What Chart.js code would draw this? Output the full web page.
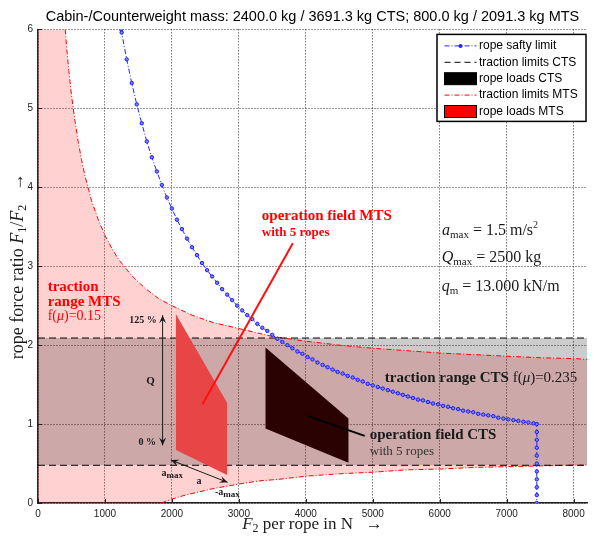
<!DOCTYPE html>
<html>
<head>
<meta charset="utf-8">
<script src="https://cdn.jsdelivr.net/npm/chart.js@4.4.0/dist/chart.umd.min.js"></script>
<style>
  html, body { margin: 0; padding: 0; background: #fff; }
</style>
</head>
<body>
<canvas id="ropeChart" width="594" height="538"></canvas>
<script>
// axis ticks
const f2Ticks = [0, 1000, 2000, 3000, 4000, 5000, 6000, 7000, 8000];
const ratioTicks = [0, 1, 2, 3, 4, 5, 6];

// rope safety limit (F2 in N -> F1/F2), incl. the drop at the max rope force
const safetyF2 = [1242, 1250, 1325, 1400, 1475, 1550, 1625, 1700, 1775, 1850,
  1925, 2000, 2075, 2150, 2225, 2300, 2375, 2450, 2525, 2600,
  2675, 2750, 2825, 2900, 2975, 3050, 3125, 3200, 3275, 3350,
  3425, 3500, 3575, 3650, 3725, 3800, 3875, 3950, 4025, 4100,
  4175, 4250, 4325, 4400, 4475, 4550, 4625, 4700, 4775, 4850,
  4925, 5000, 5075, 5150, 5225, 5300, 5375, 5450, 5525, 5600,
  5675, 5750, 5825, 5900, 5975, 6050, 6125, 6200, 6275, 6350,
  6425, 6500, 6575, 6650, 6725, 6800, 6875, 6950, 7025, 7100,
  7175, 7250, 7325, 7400, 7450, 7450, 7450, 7450, 7450, 7450,
  7450, 7450, 7450, 7450, 7450];
const safetyRatio = [6.00, 5.96, 5.62, 5.32, 5.05, 4.81, 4.58, 4.38, 4.20, 4.03,
  3.87, 3.73, 3.59, 3.47, 3.35, 3.24, 3.14, 3.04, 2.95, 2.87,
  2.79, 2.71, 2.64, 2.57, 2.50, 2.44, 2.38, 2.33, 2.27, 2.22,
  2.18, 2.13, 2.08, 2.04, 2.00, 1.96, 1.92, 1.89, 1.85, 1.82,
  1.78, 1.75, 1.72, 1.69, 1.66, 1.64, 1.61, 1.59, 1.56, 1.54,
  1.51, 1.49, 1.47, 1.45, 1.43, 1.41, 1.39, 1.37, 1.35, 1.33,
  1.31, 1.30, 1.28, 1.26, 1.25, 1.23, 1.22, 1.20, 1.19, 1.17,
  1.16, 1.15, 1.13, 1.12, 1.11, 1.10, 1.08, 1.07, 1.06, 1.05,
  1.04, 1.03, 1.02, 1.01, 1.00, 0.90, 0.80, 0.70, 0.60, 0.50,
  0.40, 0.30, 0.20, 0.10, 0.00];

// traction limits MTS, f(mu) = 0.15
const mtsUpperF2 = [406, 430, 460, 500, 550, 600, 650, 700, 800, 900,
  1000, 1100, 1200, 1400, 1600, 1800, 2000, 2300, 2600, 3000,
  3500, 4000, 4500, 5000, 5500, 6000, 6500, 7000, 7500, 8000, 8200];
const mtsUpperRatio = [6.00, 5.75, 5.48, 5.17, 4.85, 4.58, 4.35, 4.15, 3.83, 3.59,
  3.39, 3.23, 3.09, 2.88, 2.72, 2.59, 2.50, 2.38, 2.29, 2.21,
  2.11, 2.05, 2.00, 1.96, 1.93, 1.90, 1.88, 1.86, 1.84, 1.83, 1.82];
const mtsLowerF2 = [1846, 1900, 2000, 2200, 2400, 2600, 2800, 3000, 3300, 3600,
  4000, 4500, 5000, 5500, 6000, 6500, 7000, 7500, 8000, 8200];
const mtsLowerRatio = [0.00, 0.02, 0.05, 0.10, 0.14, 0.18, 0.21, 0.24, 0.28, 0.30,
  0.34, 0.37, 0.39, 0.42, 0.43, 0.45, 0.46, 0.47, 0.48, 0.48];

// traction limits CTS, f(mu) = 0.235
const ctsLimitF2 = [0, 8200];
const ctsUpperRatio = [2.09, 2.09];
const ctsLowerRatio = [0.478, 0.478];

// operation fields with 5 ropes
const mtsLoadF2 = [2060, 2825, 2825, 2060];
const mtsLoadRatio = [2.39, 1.27, 0.354, 0.67];
const ctsLoadF2 = [3398, 4637, 4637, 3398];
const ctsLoadRatio = [1.97, 1.07, 0.51, 0.945];

// pointer lines to the field labels
const mtsPointerF2 = [2457, 3806];
const mtsPointerRatio = [1.25, 3.29];
const ctsPointerF2 = [4034, 4880];
const ctsPointerRatio = [1.10, 0.85];

const SANS = '"Liberation Sans", Arial, sans-serif';
const SERIF = '"Liberation Serif", "DejaVu Serif", serif';
const RED = '#ff0000';
const INK = '#1a1a1a';
const BLUE = '#2424ff';

const pts = (xs, ys) => xs.map((x, i) => ({ x: x, y: ys[i] }));

const mtsRangeShape = [{ x: 0, y: 6 }]
  .concat(pts(mtsUpperF2, mtsUpperRatio))
  .concat(pts(mtsLowerF2, mtsLowerRatio).reverse())
  .concat([{ x: 0, y: 0 }]);
const ctsRangeShape = pts(ctsLimitF2, ctsLowerRatio)
  .concat(pts(ctsLimitF2, ctsUpperRatio).reverse());

function shape(data, color, order) {
  return { data, fill: 'shape', backgroundColor: color, borderColor: 'transparent',
    borderWidth: 1, pointRadius: 0, order };
}
function curve(data, color, dash, width, order) {
  return { data, fill: false, borderColor: color, borderDash: dash, borderWidth: width,
    pointRadius: 0, order };
}

const P = (t, size, style, color, dy) =>
  ({ t, size, color, dy: dy || 0, font: (style || '') + ' ' + size + 'px ' + SERIF });

const notes = [
  { at: [145, 2.75], align: 'left', parts: [P('traction', 15, 'bold', RED)] },
  { at: [145, 2.56], align: 'left', parts: [P('range MTS', 15, 'bold', RED)] },
  { at: [145, 2.38], align: 'left', parts: [P('f(', 14, '', RED), P('μ', 14, 'italic', RED), P(')=0.15', 14, '', RED)] },
  { at: [1772, 2.32], align: 'right', parts: [P('125 %', 10, 'bold', INK)] },
  { at: [1761, 0.78], align: 'right', parts: [P('0 %', 10, 'bold', INK)] },
  { at: [1682, 1.56], align: 'center', parts: [P('Q', 11, 'bold', INK)] },
  { at: [1846, 0.38], align: 'left', parts: [P('a', 10, 'bold', INK), P('max', 9, 'bold', INK, 2)] },
  { at: [2369, 0.28], align: 'left', parts: [P('a', 10, 'bold', INK)] },
  { at: [2642, 0.14], align: 'left', parts: [P('-a', 10, 'bold', INK), P('max', 9, 'bold', INK, 2)] },
  { at: [3343, 3.65], align: 'left', parts: [P('operation field MTS', 15, 'bold', RED)] },
  { at: [3343, 3.44], align: 'left', parts: [P('with 5 ropes', 13, 'bold', RED)] },
  { at: [6034, 3.46], align: 'left', parts: [P('a', 16, 'italic', INK), P('max', 11, '', INK, 3), P(' = 1.5 m/s', 16, '', INK), P('2', 10, '', INK, -7)] },
  { at: [6030, 3.12], align: 'left', parts: [P('Q', 16, 'italic', INK), P('max', 11, '', INK, 3), P(' = 2500 kg', 16, '', INK)] },
  { at: [6030, 2.75], align: 'left', parts: [P('q', 16, 'italic', INK), P('m', 11, '', INK, 3), P(' = 13.000 kN/m', 16, '', INK)] },
  { at: [5179, 1.60], align: 'left', parts: [P('traction range CTS', 15, 'bold', INK), P(' f(', 15, '', INK), P('μ', 15, 'italic', INK), P(')=0.235', 15, '', INK)] },
  { at: [4955, 0.87], align: 'left', parts: [P('operation field CTS', 15, 'bold', INK)] },
  { at: [4955, 0.66], align: 'left', parts: [P('with 5 ropes', 13, '', '#333')] }
];

// double arrows: load range Q and acceleration a
const arrows = [
  [[1861, 2.38], [1861, 0.73]],
  [[1985, 0.544], [2831, 0.262]]
];

const legendItems = [
  { label: 'rope safty limit', kind: 'line', color: BLUE, dash: [5, 2, 1, 2], marker: true },
  { label: 'traction limits CTS', kind: 'line', color: '#000', dash: [6, 4] },
  { label: 'rope loads CTS', kind: 'box', color: '#000' },
  { label: 'traction limits MTS', kind: 'line', color: RED, dash: [5, 2, 1, 2] },
  { label: 'rope loads MTS', kind: 'box', color: RED }
];

function drawRich(c, parts, x, y, align) {
  let w = 0;
  parts.forEach(p => { c.font = p.font; p.w = c.measureText(p.t).width; w += p.w; });
  let cx = align === 'center' ? x - w / 2 : align === 'right' ? x - w : x;
  c.textAlign = 'left';
  c.textBaseline = 'alphabetic';
  parts.forEach(p => {
    c.font = p.font;
    c.fillStyle = p.color;
    c.fillText(p.t, cx, y + p.dy);
    cx += p.w;
  });
}

function head(c, tx, ty, fx, fy) {
  const a = Math.atan2(ty - fy, tx - fx), L = 8, W = 3.5;
  c.beginPath();
  c.moveTo(tx, ty);
  c.lineTo(tx - L * Math.cos(a) + W * Math.sin(a), ty - L * Math.sin(a) - W * Math.cos(a));
  c.lineTo(tx - 0.6 * L * Math.cos(a), ty - 0.6 * L * Math.sin(a));
  c.lineTo(tx - L * Math.cos(a) - W * Math.sin(a), ty - L * Math.sin(a) + W * Math.cos(a));
  c.closePath();
  c.fill();
}

function drawLegend(c, area) {
  const w = 149, h = 87;
  const x0 = area.right - w - 1, y0 = area.top + 5;
  c.save();
  c.fillStyle = '#fff';
  c.fillRect(x0, y0, w, h);
  c.strokeStyle = '#000';
  c.lineWidth = 1.5;
  c.strokeRect(x0, y0, w, h);
  legendItems.forEach((it, i) => {
    const cy = y0 + 11.5 + i * 16.4;
    const sx = x0 + 7.5, ex = x0 + 39.5;
    if (it.kind === 'box') {
      c.fillStyle = it.color;
      c.fillRect(sx, cy - 6, ex - sx, 12);
      c.strokeStyle = '#000';
      c.lineWidth = 1;
      c.strokeRect(sx, cy - 6, ex - sx, 12);
    } else {
      c.strokeStyle = it.color;
      c.lineWidth = 1;
      c.setLineDash(it.dash);
      c.beginPath();
      c.moveTo(sx, cy);
      c.lineTo(ex, cy);
      c.stroke();
      c.setLineDash([]);
      if (it.marker) {
        c.fillStyle = it.color;
        c.beginPath();
        c.arc((sx + ex) / 2, cy, 2, 0, 2 * Math.PI);
        c.fill();
      }
    }
    c.fillStyle = '#000';
    c.font = '12px ' + SANS;
    c.textBaseline = 'middle';
    c.textAlign = 'left';
    c.fillText(it.label, x0 + 42, cy);
  });
  c.restore();
}

const overlay = {
  id: 'overlay',
  afterDatasetsDraw(chart) {
    const c = chart.ctx, xs = chart.scales.x, ys = chart.scales.y;
    const { left, bottom } = chart.chartArea;
    c.save();
    // inward ticks
    c.strokeStyle = '#222';
    c.lineWidth = 1;
    c.beginPath();
    ys.ticks.forEach(t => {
      const p = Math.round(ys.getPixelForValue(t.value)) + 0.5;
      c.moveTo(left, p); c.lineTo(left + 4, p);
    });
    xs.ticks.forEach(t => {
      const p = Math.round(xs.getPixelForValue(t.value)) + 0.5;
      c.moveTo(p, bottom); c.lineTo(p, bottom - 4);
    });
    c.stroke();
    // arrows
    c.strokeStyle = INK;
    c.fillStyle = INK;
    c.lineWidth = 1;
    arrows.forEach(([a, b]) => {
      const x1 = xs.getPixelForValue(a[0]), y1 = ys.getPixelForValue(a[1]);
      const x2 = xs.getPixelForValue(b[0]), y2 = ys.getPixelForValue(b[1]);
      c.beginPath(); c.moveTo(x1, y1); c.lineTo(x2, y2); c.stroke();
      head(c, x1, y1, x2, y2);
      head(c, x2, y2, x1, y1);
    });
    // labels
    notes.forEach(n => {
      const x = xs.getPixelForValue(n.at[0]);
      const y = ys.getPixelForValue(n.at[1]) + n.parts[0].size * 0.34;
      drawRich(c, n.parts, x, y, n.align);
    });
    c.restore();
  },
  afterDraw(chart) {
    const c = chart.ctx, area = chart.chartArea;
    c.save();
    c.translate(14, (area.top + area.bottom) / 2);
    c.rotate(-Math.PI / 2);
    drawRich(c, [P('rope force ratio ', 18, '', INK), P('F', 18, 'italic', INK), P('1', 12, '', INK, 3),
      P('/', 18, '', INK), P('F', 18, 'italic', INK), P('2', 12, '', INK, 3), P('   →', 18, '', INK)], 0, 9, 'center');
    c.restore();
    c.save();
    drawRich(c, [P('F', 17, 'italic', INK), P('2', 12, '', INK, 3), P(' per rope in N   →', 17, '', INK)],
      (area.left + area.right) / 2, 529, 'center');
    c.restore();
    drawLegend(c, area);
  }
};

new Chart(document.getElementById('ropeChart'), {
  type: 'line',
  data: {
    datasets: [
      shape(mtsRangeShape, 'rgba(255, 0, 0, 0.18)', 10),
      shape(ctsRangeShape, 'rgba(0, 0, 0, 0.2)', 9),
      curve(pts(mtsUpperF2, mtsUpperRatio), RED, [5, 2, 1, 2], 1, 8),
      curve(pts(mtsLowerF2, mtsLowerRatio), RED, [5, 2, 1, 2], 1, 8),
      curve(pts(ctsLimitF2, ctsUpperRatio), '#000', [7, 4], 1, 7),
      curve(pts(ctsLimitF2, ctsLowerRatio), '#000', [7, 4], 1, 7),
      shape(pts(mtsLoadF2, mtsLoadRatio), '#e84646', 6),
      shape(pts(ctsLoadF2, ctsLoadRatio), '#2a0202', 6),
      {
        data: pts(safetyF2, safetyRatio), fill: false, order: 4,
        borderColor: BLUE, borderWidth: 1, borderDash: [5, 2, 1, 2],
        pointRadius: 1.7, pointBorderWidth: 1, pointBorderColor: '#1a1aff', pointBackgroundColor: '#7c82ff'
      },
      curve(pts(mtsPointerF2, mtsPointerRatio), '#ff1010', [], 2, 3),
      curve(pts(ctsPointerF2, ctsPointerRatio), '#000', [], 2, 3)
    ]
  },
  options: {
    responsive: false,
    animation: false,
    events: [],
    layout: { padding: { left: 0, right: 7, top: 0, bottom: 0 } },
    plugins: {
      legend: { display: false },
      tooltip: { enabled: false },
      title: {
        display: true,
        fullSize: false,
        text: 'Cabin-/Counterweight mass: 2400.0 kg / 3691.3 kg CTS; 800.0 kg / 2091.3 kg MTS',
        color: '#000',
        font: { family: SANS, size: 14.5, weight: 'normal' },
        padding: { top: 8, bottom: 4 }
      }
    },
    scales: {
      x: {
        type: 'linear', min: 0, max: 8200,
        afterFit: s => { s.height = 35; },
        afterBuildTicks: s => { s.ticks = f2Ticks.map(v => ({ value: v })); },
        ticks: { autoSkip: false, maxRotation: 0, padding: 5, color: '#222',
          font: { family: SANS, size: 10 }, callback: v => String(v) },
        grid: { color: 'rgba(0, 0, 0, 0.8)', lineWidth: 1, drawTicks: false },
        border: { display: true, color: '#222', width: 1.5, dash: [1, 2] }
      },
      y: {
        type: 'linear', min: 0, max: 6,
        afterFit: s => { s.width = 38; },
        afterBuildTicks: s => { s.ticks = ratioTicks.map(v => ({ value: v })); },
        ticks: { padding: 5, color: '#222',
          font: { family: SANS, size: 10 }, callback: v => String(v) },
        grid: { color: 'rgba(0, 0, 0, 0.8)', lineWidth: 1, drawTicks: false },
        border: { display: true, color: '#222', width: 1.5, dash: [1, 2] }
      }
    }
  },
  plugins: [overlay]
});
</script>
</body>
</html>
